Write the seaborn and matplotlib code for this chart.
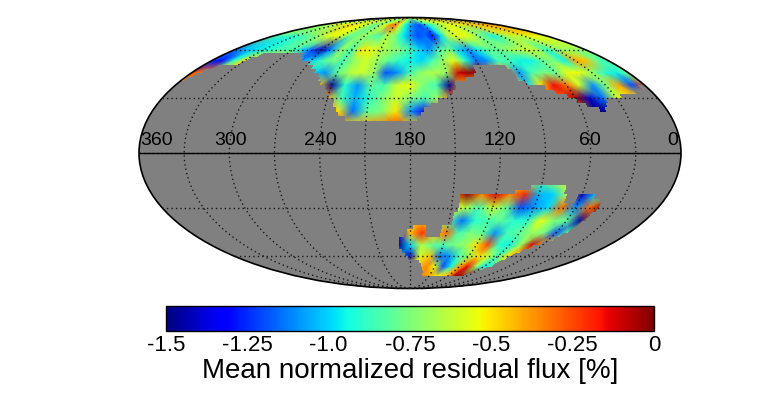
import numpy as np
import seaborn as sns
import matplotlib.pyplot as plt
from matplotlib.cm import ScalarMappable
from matplotlib.colors import ListedColormap, Normalize

sns.set_style('white')
plt.rcParams['font.family'] = ['Liberation Sans', 'DejaVu Sans']
plt.rcParams['text.color'] = 'black'
plt.rcParams['axes.labelcolor'] = 'black'
plt.rcParams['axes.edgecolor'] = 'black'
plt.rcParams['xtick.color'] = 'black'

# flux rows, right ascension 360 -> 0 in steps of 10
north_ra = [360, 350, 340, 330, 320, 310, 300, 290, 280, 270,
            260, 250, 240, 230, 220, 210, 200, 190, 180, 170,
            160, 150, 140, 130, 120, 110, 100, 90, 80, 70,
            60, 50, 40, 30, 20, 10, 0]
north_dec = [90, 80, 70, 60, 52.5, 45, 37.5, 30, 22.5, 15]

flux_n90 = [-.7, -.7, -.7, -.7, -.7, -.7, -.7, -.7, -.7, -.7,
            -.7, -.7, -.7, -.7, -.7, -.7, -.7, -.7, -.7, -.7,
            -.7, -.7, -.7, -.7, -.7, -.7, -.7, -.7, -.7, -.7,
            -.7, -.7, -.7, -.7, -.7, -.7, -.7]
flux_n80 = [-.65, -.65, -.6, -.55, -.5, -.5, -.45, -.5, -.55, -.6,
            -.7, -.8, -.7, -.55, -.35, -.3, -.6, -.9, -1.05, -1.15,
            -1.2, -1.05, -.9, -.8, -.7, -.6, -.55, -.55, -.5, -.5,
            -.45, -.45, -.4, -.4, -.35, -.35, -.35]
flux_n70 = [-.8, -.85, -.9, -.9, -.85, -.8, -.7, -.6, -.55, -.6,
            -.8, -.75, -.7, -.8, -.85, -.65, -.75, -.95, -1.1, -1.2,
            -1.15, -1.3, -1.0, -.65, -.55, -.55, -.6, -.75, -.85, -.95,
            -.8, -.65, -.6, -.6, -.55, -.55, -.55]
flux_n60 = [-1.15, -1.05, -1.0, -.95, -.9, -.85, -.85, -1.0, -1.2, -1.4,
            -1.1, -.7, -.85, -.5, -.55, -.65, -.7, -.75, -.85, -1.0,
            -1.1, -.85, -.75, -1.0, -1.1, -.95, -.8, -.8, -.7, -.65,
            -.6, -.65, -.9, -.75, -.7, -.7, -.7]
flux_n52 = [-1.25, -1.3, -.9, -.5, -.45, -.45, -.45, -.45, -1.1, -1.0,
            -.85, -.75, -.85, -.7, -.6, -.7, -.8, -.9, -.95, -1.0,
            -.85, -.7, -.55, -.9, -1.15, -1.1, -.85, -.85, -.95, -.95,
            -.8, -.75, -.95, -.4, -.45, -.8, -.9]
flux_n45 = [-.25, -.35, -.45, -.45, -.45, -.45, -.45, -.45, -.45, -.45,
            -1.0, -1.1, -.8, -.65, -.6, -.7, -1.2, -1.1, -.85, -.7,
            -.65, -.7, -.1, -.02, -.1, -.45, -.4, -1.1, -.85, -.75,
            -.8, -.55, -.55, -.7, -.9, -.95, -.8]
flux_n37 = [-.45, -.45, -.45, -.45, -.45, -.45, -.45, -.45, -.45, -.45,
            -.45, -.45, -1.45, -.9, -1.1, -.8, -.85, -.6, -.55, -.75,
            -.85, -1.45, -.4, -.45, -.45, -.45, -.45, -1.0, -.5, -.15,
            -.3, -.6, -1.1, -.75, -.4, -1.2, -.25]
flux_n30 = [-.45, -.45, -.45, -.45, -.45, -.45, -.45, -.45, -.45, -.45,
            -.45, -.45, -.4, -.85, -1.05, -.9, -.75, -.6, -.75, -.85,
            -.7, -.3, -.45, -.45, -.45, -.45, -.45, -.45, -.15, -.3,
            -.05, -1.4, -1.15, -.6, -.5, -.45, -.45]
flux_n22 = [-.45, -.45, -.45, -.45, -.45, -.45, -.45, -.45, -.45, -.45,
            -.45, -.45, -.3, -.5, -1.15, -.8, -.75, -.5, -1.1, -1.3,
            -.3, -.45, -.45, -.45, -.45, -.45, -.45, -.45, -.45, -.45,
            -.45, -1.5, -1.5, -.45, -.45, -.45, -.45]
flux_n15 = [-.45, -.45, -.45, -.45, -.45, -.45, -.45, -.45, -.45, -.45,
            -.45, -.45, -.45, -.1, -.5, -.4, -.35, -.25, -.45, -.5,
            -.45, -.45, -.45, -.45, -.45, -.45, -.45, -.45, -.45, -.45,
            -.45, -.45, -.45, -.45, -.45, -.45, -.45]

south_ra = [200, 190, 180, 170, 160, 150, 140, 130, 120, 110, 100, 90, 80, 70, 60, 50, 40, 30]
south_dec = [-15, -22.5, -30, -37.5, -45, -52.5, -60, -67.5, -75, -82.5]

flux_s15 = [-.45, -.45, -.45, -.45, -.45, -.45, -.45, -.45, -.45, -.45, -.7, -.85, -.65, -.5, -.45, -.45, -.45, -.45]
flux_s22 = [-.45, -.45, -.45, -.45, -.45, -.35, -.02, -.35, -.12, -.35, -.2, -1.05, -1.0, -.65, -1.4, -1.0, -.5, -.5]
flux_s30 = [-.45, -.45, -.45, -.45, -.45, -.6, -.65, -.85, -.6, -.8, -1.2, -1.1, -1.0, -.3, -1.1, -.3, -.02, -.5]
flux_s37 = [-.45, -.45, -.45, -.45, -.45, -.85, -1.15, -.9, -.85, -.8, -.9, -.9, -.55, -.75, -.8, -1.45, -.5, -.5]
flux_s45 = [-.45, -1.3, -.45, -.2, -.45, -.3, -.85, -.75, -.8, -1.1, -.85, -.8, -.7, -.75, -1.2, -.8, -.45, -.45]
flux_s52 = [-1.0, -1.5, -1.0, -.65, -.8, -.85, -.75, -.7, -.5, -.25, -.9, -.95, -.7, -.1, -.4, -.45, -.45, -.45]
flux_s60 = [-.45, -1.0, -1.4, -.6, -.45, -1.15, -1.1, -.85, -.7, -.5, -.6, -.85, -.5, -.5, -.45, -.45, -.45, -.45]
flux_s67 = [-.45, -.45, -.5, -.45, -.35, -.55, -1.2, -.95, -.4, -.15, -.7, -.95, -.9, -.45, -.45, -.45, -.45, -.45]
flux_s75 = [-.45, -.45, -.5, -.4, -.35, -.4, -.5, -.5, -.4, -.05, -.05, -.15, -.5, -.45, -.45, -.45, -.45, -.45]
flux_s82 = [-.5, -.5, -.5, -.5, -.5, -.5, -.5, -.5, -.5, -.5, -.5, -.5, -.5, -.5, -.5, -.5, -.5, -.5]

# survey footprint: lower edge of a 2.5 deg dec band -> covered ra ranges
footprint_north = {
    17.5: [(175, 226)], 20: [(173, 229)], 22.5: [(170, 232), (42, 48)],
    25: [(166, 234), (40, 54)], 27.5: [(160, 236), (38, 61)], 30: [(153, 239), (25, 65)],
    32.5: [(148, 242), (12, 72)], 35: [(146, 245), (5, 78)], 37.5: [(144, 249), (0, 90)],
    40: [(135, 252), (0, 94), (357, 360)], 42.5: [(127, 256), (0, 96), (355, 360)],
    45: [(125, 260), (0, 96), (352, 360)], 47.5: [(125, 264), (0, 97), (345, 360)],
    50: [(0, 270), (330, 360)], 52.5: [(0, 281), (327, 360)], 55: [(0, 285), (323, 360)],
    57.5: [(0, 360)], 60: [(0, 360)], 62.5: [(0, 360)], 65: [(0, 360)], 67.5: [(0, 360)],
    70: [(0, 360)], 72.5: [(0, 360)], 75: [(0, 360)], 77.5: [(0, 360)], 80: [(0, 360)],
    82.5: [(0, 360)], 85: [(0, 360)], 87.5: [(0, 360)],
}
footprint_south = {
    -20: [(72, 98)], -22.5: [(72, 108)], -25: [(50, 63), (71, 146)], -27.5: [(44, 63), (70, 146)],
    -30: [(43, 146)], -32.5: [(42, 146)], -35: [(44, 147)], -37.5: [(46, 148)], -40: [(47, 148)],
    -42.5: [(48, 154), (168, 178)], -45: [(50, 154), (167, 182)], -47.5: [(52, 154), (167, 186)],
    -50: [(55, 190)], -52.5: [(62, 191)], -55: [(68, 191)], -57.5: [(72, 188)], -60: [(75, 185)],
    -62.5: [(77, 183)], -65: [(79, 170)], -67.5: [(81, 168)], -70: [(85, 165)], -72.5: [(88, 162)],
    -75: [(95, 162)],
}

ra_labels = ['360', '300', '240', '180', '120', '60', '0']
ra_label_pos = [349, 300, 240, 180, 120, 60, 5]
cbar_ticks = [-1.5, -1.25, -1.0, -0.75, -0.5, -0.25, 0]
cbar_labels = ['-1.5', '-1.25', '-1.0', '-0.75', '-0.5', '-0.25', '0']


def ra_to_x(ra):
    # ra runs right to left across the map
    return np.radians(180 - np.asarray(ra, dtype=float))


north_flux = np.array([flux_n90, flux_n80, flux_n70, flux_n60, flux_n52,
                       flux_n45, flux_n37, flux_n30, flux_n22, flux_n15])
south_flux = np.array([flux_s15, flux_s22, flux_s30, flux_s37, flux_s45,
                       flux_s52, flux_s60, flux_s67, flux_s75, flux_s82])

# grey cover for everything outside the footprint
ra_edges = np.arange(0, 360.1, 2.5)
dec_edges = np.arange(-90, 90.1, 2.5)
ra_mid = (ra_edges[:-1] + ra_edges[1:]) / 2
covered = np.zeros((len(dec_edges) - 1, len(ra_mid)), dtype=bool)
for bands in (footprint_north, footprint_south):
    for dec, ranges in bands.items():
        row = int(round((dec + 90) / 2.5))
        for lo, hi in ranges:
            covered[row, (ra_mid > lo) & (ra_mid < hi)] = True
outside = np.ma.masked_where(covered, np.ones(covered.shape))

fig = plt.figure(figsize=(7.77, 3.93), dpi=100)
ax = fig.add_axes([139 / 777, 1 - 289 / 393, 542 / 777, 272 / 393], projection='mollweide')
ax.set_facecolor('#808080')

jet = plt.get_cmap('jet')
norm = Normalize(-1.5, 0)

nx, ny = np.meshgrid(ra_to_x(north_ra), np.radians(north_dec))
ax.pcolormesh(nx, ny, north_flux, cmap=jet, norm=norm, shading='gouraud', zorder=1)
sx, sy = np.meshgrid(ra_to_x(south_ra), np.radians(south_dec))
ax.pcolormesh(sx, sy, south_flux, cmap=jet, norm=norm, shading='gouraud', zorder=1)

ex, ey = np.meshgrid(ra_to_x(ra_edges), np.radians(dec_edges))
ax.pcolormesh(ex, ey, outside, cmap=ListedColormap(['#808080']), shading='flat',
              antialiased=False, linewidth=0, zorder=1.5)

ax.set_longitude_grid(30)
ax.set_latitude_grid(30)
ax.set_longitude_grid_ends(90)
ax.set_axisbelow(False)
ax.grid(True, color='#1a1a1a', linestyle=(0, (1, 2.2)), linewidth=1)
ax.set_xticklabels([])
ax.set_yticklabels([])
ax.plot(ra_to_x([360, 0]), [0, 0], color='black', linewidth=1, zorder=3)
for s in ax.spines.values():
    s.set_linewidth(1.2)

for lab, ra in zip(ra_labels, ra_label_pos):
    ax.text(ra_to_x(ra), np.radians(6.6), lab, fontsize=14, ha='center', va='center', color='black')

cax = fig.add_axes([166 / 777, 1 - 331 / 393, 488 / 777, 25 / 393])
cb = fig.colorbar(ScalarMappable(norm=norm, cmap=jet), cax=cax, orientation='horizontal')
cb.set_ticks(cbar_ticks)
cb.set_ticklabels(cbar_labels)
cb.ax.tick_params(direction='in', length=2, width=0.6, labelsize=16, pad=3)
cb.outline.set_linewidth(1)
cb.set_label('Mean normalized residual flux [%]', fontsize=20, labelpad=1)

fig.savefig('out.png', dpi=100)
